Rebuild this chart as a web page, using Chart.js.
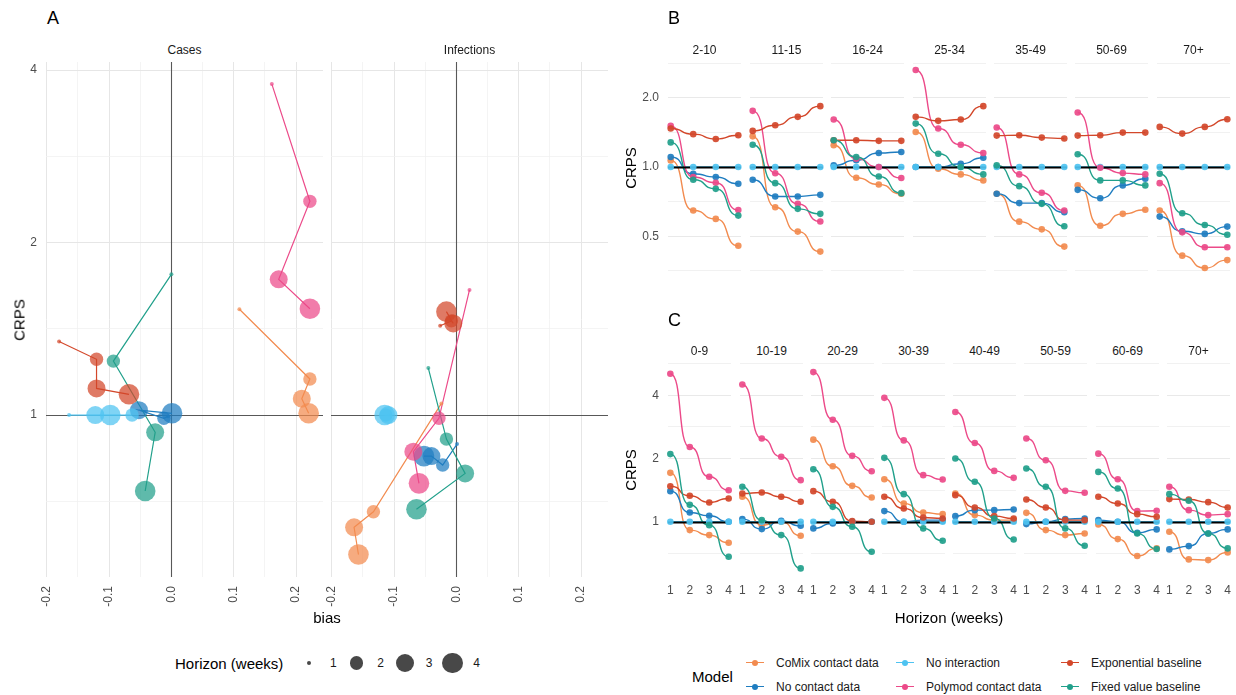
<!DOCTYPE html>
<html>
<head>
<meta charset="utf-8">
<title>Forecast performance by model</title>
<script src="https://cdn.jsdelivr.net/npm/chart.js@4.4.1/dist/chart.umd.min.js"></script>
<style>
  html, body { margin: 0; padding: 0; background: #fff; }
  #fig { position: relative; width: 1236px; height: 695px; overflow: hidden;
         font-family: "Liberation Sans", Arial, Helvetica, sans-serif; color: #1a1a1a; }
  #fig canvas { position: absolute; }
  .txt { position: absolute; white-space: nowrap; line-height: 1; }
  .key-line { position: absolute; height: 0; }
  .key-dot { position: absolute; border-radius: 50%; }
</style>
</head>
<body>
<div id="fig"></div>
<script>
// ---------------- data ----------------
const models = ['CoMix contact data', 'No contact data', 'No interaction',
                'Polymod contact data', 'Exponential baseline', 'Fixed value baseline'];
const modelColors = ['#F28B4F', '#1F7DC0', '#4EC3F1', '#EC4A89', '#D3472A', '#21A08B'];
const horizons = [1, 2, 3, 4];

// Panel A: bias vs relative CRPS, one row per model, one column per horizon
const targetsA = ['Cases', 'Infections'];
const casesBias = [
  [0.109, 0.222, 0.209, 0.220],
  [-0.005, -0.012, -0.052, 0.001],
  [-0.164, -0.063, -0.122, -0.098],
  [0.161, 0.222, 0.172, 0.222],
  [-0.180, -0.120, -0.120, -0.068],
  [0.000, -0.093, -0.026, -0.042]
];
const casesCrps = [
  [1.53, 1.156, 1.068, 1.007],
  [0.995, 0.987, 1.02, 1.007],
  [1.0, 1.0, 1.0, 1.0],
  [3.78, 2.36, 1.725, 1.533],
  [1.344, 1.251, 1.113, 1.087],
  [1.76, 1.242, 0.933, 0.737]
];
const infectionsBias = [
  [-0.024, -0.133, -0.164, -0.157],
  [0.001, -0.022, -0.040, -0.052],
  [-0.108, -0.113, -0.109, -0.115],
  [0.021, -0.028, -0.069, -0.060],
  [-0.026, -0.008, -0.005, -0.016],
  [-0.045, -0.016, 0.014, -0.064]
];
const infectionsCrps = [
  [1.048, 0.678, 0.637, 0.571],
  [0.89, 0.818, 0.848, 0.848],
  [1.0, 1.0, 1.0, 1.0],
  [1.653, 0.987, 0.863, 0.76],
  [1.432, 1.46, 1.445, 1.515],
  [1.208, 0.908, 0.791, 0.685]
];

// Panel B: relative CRPS by age group (cases), per model: [age group][horizon]
const ageGroupsB = ['2-10', '11-15', '16-24', '25-34', '35-49', '50-69', '70+'];
const comixB = [
  [1.069, 0.647, 0.595, 0.455], [1.36, 0.669, 0.524, 0.429], [1.243, 0.898, 0.84, 0.765],
  [1.421, 0.983, 0.929, 0.875], [0.765, 0.579, 0.536, 0.451], [0.832, 0.556, 0.626, 0.652],
  [0.647, 0.412, 0.364, 0.394]
];
const noContactB = [
  [1.106, 0.935, 0.905, 0.846], [0.88, 0.745, 0.745, 0.757], [1.017, 1.07, 1.151, 1.163],
  [1.0, 1.0, 1.034, 1.098], [0.765, 0.697, 0.697, 0.636], [0.796, 0.732, 0.832, 0.889],
  [0.609, 0.526, 0.512, 0.551]
];
const noInteractionB = [
  [1, 1, 1, 1], [1, 1, 1, 1], [1, 1, 1, 1], [1, 1, 1, 1], [1, 1, 1, 1], [1, 1, 1, 1], [1, 1, 1, 1]
];
const polymodB = [
  [1.51, 0.905, 0.855, 0.65], [1.755, 0.94, 0.692, 0.58], [1.609, 1.087, 1.0, 0.896],
  [2.64, 1.47, 1.25, 1.151], [1.485, 0.929, 0.773, 0.647], [1.726, 0.993, 0.941, 0.929],
  [0.851, 0.52, 0.448, 0.448]
];
const exponentialB = [
  [1.47, 1.39, 1.325, 1.375], [1.436, 1.52, 1.653, 1.84], [1.307, 1.307, 1.30, 1.30],
  [1.653, 1.588, 1.609, 1.84], [1.37, 1.375, 1.343, 1.33], [1.37, 1.375, 1.412, 1.412],
  [1.495, 1.398, 1.495, 1.614]
];
const fixedB = [
  [1.28, 0.88, 0.804, 0.615], [1.25, 0.851, 0.658, 0.626], [1.307, 1.106, 0.91, 0.77],
  [1.545, 1.143, 1.0, 0.929], [1.017, 0.826, 0.692, 0.553], [1.136, 0.875, 0.875, 0.832],
  [0.935, 0.63, 0.56, 0.508]
];

// Panel C: relative CRPS by age group (infections), per model: [age group][horizon]
const ageGroupsC = ['0-9', '10-19', '20-29', '30-39', '40-49', '50-59', '60-69', '70+'];
const comixC = [
  [1.71, 0.913, 0.864, 0.795], [1.315, 0.964, 1.0, 0.858], [2.46, 1.839, 1.483, 1.305],
  [1.595, 1.222, 1.107, 1.087], [1.363, 1.076, 1.018, 1.018], [1.103, 0.913, 0.864, 0.88],
  [0.971, 0.827, 0.687, 0.747], [0.896, 0.662, 0.657, 0.715]
];
const noContactC = [
  [1.399, 1.107, 1.068, 1.0], [1.03, 0.923, 1.01, 0.957], [0.93, 0.982, 1.0, 1.0],
  [1.124, 1.0, 1.018, 1.018], [1.064, 1.136, 1.136, 1.145], [0.975, 1.0, 1.03, 1.037],
  [1.018, 1.0, 0.886, 0.92], [0.739, 0.766, 0.88, 0.92]
];
const noInteractionC = [
  [1, 1, 1, 1], [1, 1, 1, 1], [1, 1, 1, 1], [1, 1, 1, 1],
  [1, 1, 1, 1], [1, 1, 1, 1], [1, 1, 1, 1], [1, 1, 1, 1]
];
const polymodC = [
  [5.07, 2.27, 1.637, 1.414], [4.5, 2.49, 2.04, 1.578], [5.16, 3.06, 2.06, 1.741],
  [3.89, 2.44, 1.667, 1.59], [3.33, 2.37, 1.747, 1.619], [2.49, 1.964, 1.404, 1.374],
  [2.11, 1.595, 1.124, 1.128], [1.467, 1.136, 1.076, 1.087]
];
const exponentialC = [
  [1.477, 1.33, 1.236, 1.291], [1.363, 1.379, 1.315, 1.245], [1.399, 1.245, 1.007, 1.0],
  [1.315, 1.157, 1.048, 1.037], [1.339, 1.17, 1.064, 1.037], [1.277, 1.17, 1.018, 1.018],
  [1.315, 1.222, 1.087, 1.056], [1.282, 1.277, 1.24, 1.17]
];
const fixedC = [
  [2.1, 1.204, 0.964, 0.682], [1.467, 1.018, 0.864, 0.6], [1.78, 1.178, 0.947, 0.72],
  [2.015, 1.354, 0.93, 0.812], [2.0, 1.55, 1.037, 0.824], [1.793, 1.467, 0.93, 0.769],
  [1.728, 1.44, 0.88, 0.742], [1.354, 1.259, 0.88, 0.747]
];

// tick values (majors labelled, half-steps as minor grid)
const biasTicks = [-0.2, -0.15, -0.1, -0.05, 0, 0.05, 0.1, 0.15, 0.2];
const crpsTicksA = [0.7071, 1, 1.4142, 2, 2.8284, 4];
const crpsTicksB = [0.3536, 0.5, 0.7071, 1, 1.4142, 2, 2.8284];
const crpsTicksC = [0.7071, 1, 1.4142, 2, 2.8284, 4, 5.6569];
const horizonTicks = [1, 2, 3, 4];

// ---------------- styling ----------------
const FONT = '"Liberation Sans", Arial, Helvetica, sans-serif';
const horizonRadii = [2, 6.7, 9, 10.3];
Chart.defaults.font.family = FONT;
Chart.defaults.animation = false;

const fig = document.getElementById('fig');
const modelsB = [comixB, noContactB, noInteractionB, polymodB, exponentialB, fixedB];
const modelsC = [comixC, noContactC, noInteractionC, polymodC, exponentialC, fixedC];

function rgba(hex, a) {
  const n = parseInt(hex.slice(1), 16);
  return `rgba(${(n >> 16) & 255},${(n >> 8) & 255},${n & 255},${a})`;
}
const isPow2 = v => Math.abs(Math.log2(v) - Math.round(Math.log2(v))) < 1e-3;
const isTenth = v => Math.abs(v * 10 - Math.round(v * 10)) < 1e-9;

// Segments that stay flat at each observation and turn between them
const flatSteps = {
  id: 'flatSteps',
  beforeDatasetDraw(chart, args) {
    const ds = chart.data.datasets[args.index];
    if (!ds.flatSteps) return;
    const pts = args.meta.data, k = 0.65;
    for (let i = 0; i < pts.length; i++) {
      const p = pts[i], prev = pts[i - 1], next = pts[i + 1];
      p.cp1x = prev ? p.x - (p.x - prev.x) * k : p.x; p.cp1y = p.y;
      p.cp2x = next ? p.x + (next.x - p.x) * k : p.x; p.cp2y = p.y;
    }
    args.meta.dataset._pointsUpdated = true;
  }
};

// Reference lines (y = 1, optionally x = 0)
function drawRef(chart, o) {
  const { ctx, chartArea: a, scales } = chart;
  ctx.save();
  ctx.strokeStyle = o.color; ctx.lineWidth = o.width;
  ctx.beginPath();
  if (o.y != null) {
    const py = Math.round(scales.y.getPixelForValue(o.y)) + 0.5;
    ctx.moveTo(a.left, py); ctx.lineTo(a.right, py);
  }
  if (o.x != null) {
    const px = Math.round(scales.x.getPixelForValue(o.x)) + 0.5;
    ctx.moveTo(px, a.top); ctx.lineTo(px, a.bottom);
  }
  ctx.stroke(); ctx.restore();
}
const refLine = {
  id: 'refLine',
  beforeDatasetsDraw(chart, args, o) { if (o.layer === 'below') drawRef(chart, o); },
  beforeDatasetDraw(chart, args, o) {
    const ds = chart.data.datasets[args.index];
    if (o.layer === 'mid' && ds.role === 'point' && ds.model === 0) drawRef(chart, o);
  }
};
Chart.register(flatSteps, refLine);

function addText(str, x, y, opt = {}) {
  const el = document.createElement('div');
  el.className = 'txt';
  el.textContent = str;
  el.style.fontSize = (opt.size || 12) + 'px';
  el.style.color = opt.color || '#1a1a1a';
  el.style.left = x + 'px';
  el.style.top = y + 'px';
  if (opt.left) el.style.transform = 'translate(0,-50%)';
  else if (opt.rotate) el.style.transform = 'translate(-50%,-50%) rotate(-90deg)';
  else el.style.transform = 'translate(-50%,-50%)';
  fig.appendChild(el);
}

// Canvas sized so that the plotting area lands on the requested box
function makeChart(box, config) {
  const { left, top, width, height, axisLeft = 0, axisBottom = 0,
          padL = 0, padR = 0, padT = 0, padB = 0 } = box;
  const W = padL + axisLeft + width + padR;
  const H = padT + height + axisBottom + padB;
  const cv = document.createElement('canvas');
  cv.width = W; cv.height = H;
  cv.style.left = (left - axisLeft - padL) + 'px';
  cv.style.top = (top - padT) + 'px';
  cv.style.width = W + 'px'; cv.style.height = H + 'px';
  fig.appendChild(cv);
  const o = config.options;
  o.responsive = false;
  o.devicePixelRatio = 1;
  o.events = [];
  o.layout = { autoPadding: false, padding: { left: padL, right: padR, top: padT, bottom: padB } };
  o.scales.x.afterFit = s => { s.height = axisBottom; s.paddingLeft = 0; s.paddingRight = 0; };
  o.scales.y.afterFit = s => { s.width = axisLeft; s.paddingTop = 0; s.paddingBottom = 0; };
  o.plugins = Object.assign({ legend: { display: false }, tooltip: { enabled: false } }, o.plugins || {});
  return new Chart(cv, config);
}

const tickFont = { size: 12, family: FONT };
const tickColor = '#4D4D4D';

// ---------------- panel A ----------------
function biasDatasets(bias, crps) {
  const out = [];
  models.forEach((m, k) => {
    const pts = horizons.map((h, j) => ({ x: bias[k][j], y: crps[k][j] }));
    out.push({ role: 'line', model: k, data: pts, showLine: true, borderColor: modelColors[k],
               borderWidth: 1.2, pointRadius: 0, tension: 0, order: 100 - k });
    out.push({ role: 'point', model: k, data: pts, showLine: false,
               pointRadius: horizons.map((h, j) => horizonRadii[j]),
               pointBackgroundColor: rgba(modelColors[k], 0.72), pointBorderWidth: 0,
               order: 50 - k, clip: false });
  });
  return out;
}

const panelA = [
  { name: targetsA[0], bias: casesBias, crps: casesCrps, left: 46, axisLeft: 46, padL: 0 },
  { name: targetsA[1], bias: infectionsBias, crps: infectionsCrps, left: 331, axisLeft: 0, padL: 10 }
];
panelA.forEach(p => {
  makeChart({ left: p.left, top: 62, width: 277, height: 515, axisLeft: p.axisLeft,
              axisBottom: 45, padL: p.padL }, {
    type: 'scatter',
    data: { datasets: biasDatasets(p.bias, p.crps) },
    options: {
      scales: {
        x: {
          type: 'linear', min: -0.201, max: 0.243, bounds: 'data',
          afterBuildTicks: s => { s.ticks = biasTicks.map(v => ({ value: v })); },
          ticks: { autoSkip: false, minRotation: 90, maxRotation: 90, padding: 9, font: tickFont, color: tickColor,
                   callback: v => (isTenth(v) ? v.toFixed(1) : '') },
          grid: { drawTicks: false,
                  color: c => (c.tick && isTenth(c.tick.value) ? '#E6E6E6' : '#F1F1F1'),
                  lineWidth: c => (c.tick && isTenth(c.tick.value) ? 1 : 0.8) },
          border: { display: false }
        },
        y: {
          type: 'logarithmic', min: 0.5217, max: 4.131, bounds: 'data',
          afterBuildTicks: s => { s.ticks = crpsTicksA.map(v => ({ value: v })); },
          ticks: { display: p.axisLeft > 0, autoSkip: false, padding: 9, font: tickFont, color: tickColor,
                   callback: v => (isPow2(v) ? String(Math.round(v)) : '') },
          grid: { drawTicks: false,
                  color: c => (c.tick && isPow2(c.tick.value) ? '#E6E6E6' : '#F1F1F1'),
                  lineWidth: c => (c.tick && isPow2(c.tick.value) ? 1 : 0.8) },
          border: { display: false }
        }
      },
      plugins: { refLine: { layer: 'below', x: 0, y: 1, color: 'rgba(0,0,0,0.62)', width: 1.1 } }
    }
  });
  addText(p.name, p.left + 277 / 2, 49.5, { size: 12 });
});

// ---------------- panels B and C ----------------
function facetDatasets(byModel, g) {
  const out = [];
  models.forEach((m, k) => {
    const pts = horizons.map((h, j) => ({ x: h, y: byModel[k][g][j] }));
    out.push({ role: 'line', model: k, data: pts, showLine: true, borderColor: modelColors[k],
               borderWidth: 1.4, pointRadius: 0, tension: 0.4, flatSteps: true, order: 100 - k });
    out.push({ role: 'point', model: k, data: pts, showLine: false, pointRadius: 3.3,
               pointBackgroundColor: rgba(modelColors[k], 0.92), pointBorderWidth: 0,
               order: 50 - k, clip: false });
  });
  return out;
}

function facetRow(groups, byModel, row) {
  groups.forEach((name, g) => {
    const left = Math.round(668.3 + row.pitch * g);
    const first = g === 0;
    makeChart({ left, top: row.top, width: row.width, height: row.height,
                axisLeft: first ? 40 : 0, axisBottom: row.axisBottom,
                padL: first ? 0 : 4, padR: 4, padT: 4, padB: 2 }, {
      type: 'scatter',
      data: { datasets: facetDatasets(byModel, g) },
      options: {
        scales: {
          x: {
            type: 'linear', min: 0.88, max: 4.12, bounds: 'data',
            afterBuildTicks: s => { s.ticks = horizonTicks.map(v => ({ value: v })); },
            ticks: { display: row.axisBottom > 0, autoSkip: false, minRotation: 0, maxRotation: 0,
                     padding: 5, font: tickFont, color: tickColor, callback: v => String(v) },
            grid: { display: false, drawTicks: false },
            border: { display: false }
          },
          y: {
            type: 'logarithmic', min: row.min, max: row.max, bounds: 'data',
            afterBuildTicks: s => { s.ticks = row.ticks.map(v => ({ value: v })); },
            ticks: { display: first, autoSkip: false, padding: 9, font: tickFont, color: tickColor,
                     callback: v => (isPow2(v) ? row.fmt(v) : '') },
            grid: { drawTicks: false,
                    color: c => (c.tick && isPow2(c.tick.value) ? '#E9E9E9' : '#F1F1F1'),
                    lineWidth: c => (c.tick && isPow2(c.tick.value) ? 1.1 : 1) },
            border: { display: false }
          }
        },
        plugins: { refLine: { layer: 'mid', y: 1, color: '#000000', width: 1.8 } }
      }
    });
    addText(name, left + row.width / 2, row.stripY, { size: 12 });
  });
}

facetRow(ageGroupsB, modelsB, {
  pitch: 81.4, width: 73, top: 60, height: 216, axisBottom: 0,
  min: 0.336, max: 2.92, ticks: crpsTicksB, fmt: v => v.toFixed(1), stripY: 50
});
facetRow(ageGroupsC, modelsC, {
  pitch: 71.2, width: 63, top: 363, height: 215, axisBottom: 22,
  min: 0.540, max: 5.70, ticks: crpsTicksC, fmt: v => String(Math.round(v)), stripY: 350.5
});

// ---------------- titles ----------------
addText('A', 53, 18, { size: 18, color: '#000' });
addText('B', 674, 18, { size: 18, color: '#000' });
addText('C', 674.5, 320, { size: 18, color: '#000' });
addText('CRPS', 19, 319.5, { size: 15, color: '#000', rotate: true });
addText('CRPS', 630, 168, { size: 15, color: '#000', rotate: true });
addText('CRPS', 630, 470, { size: 15, color: '#000', rotate: true });
addText('bias', 327, 617, { size: 15, color: '#000' });
addText('Horizon (weeks)', 949, 617, { size: 15, color: '#000' });

// ---------------- legends ----------------
addText('Horizon (weeks)', 175, 663, { size: 15, color: '#000', left: true });
const horizonKeyX = [309.3, 356.7, 405, 452.7];
horizons.forEach((h, j) => {
  const r = horizonRadii[j];
  const d = document.createElement('div');
  d.className = 'key-dot';
  d.style.width = d.style.height = (2 * r) + 'px';
  d.style.left = (horizonKeyX[j] - r) + 'px';
  d.style.top = (663 - r) + 'px';
  d.style.background = 'rgba(40,40,40,0.85)';
  fig.appendChild(d);
  addText(String(h), horizonKeyX[j] + 24, 663, { size: 12 });
});

addText('Model', 692, 676, { size: 15, color: '#000', left: true });
const modelKeyX = [755, 905, 1070];
const modelKeyY = [663, 687];
models.forEach((m, k) => {
  const col = Math.floor(k / 2), rowI = k % 2;
  const cx = modelKeyX[col], cy = modelKeyY[rowI];
  const ln = document.createElement('div');
  ln.className = 'key-line';
  ln.style.left = (cx - 9) + 'px'; ln.style.width = '18px';
  ln.style.top = (cy - 0.75) + 'px';
  ln.style.borderTop = '1.5px solid ' + modelColors[k];
  fig.appendChild(ln);
  const dot = document.createElement('div');
  dot.className = 'key-dot';
  dot.style.width = dot.style.height = '6.6px';
  dot.style.left = (cx - 3.3) + 'px'; dot.style.top = (cy - 3.3) + 'px';
  dot.style.background = modelColors[k];
  fig.appendChild(dot);
  addText(m, cx + 21, cy, { size: 12, left: true });
});
</script>
</body>
</html>
